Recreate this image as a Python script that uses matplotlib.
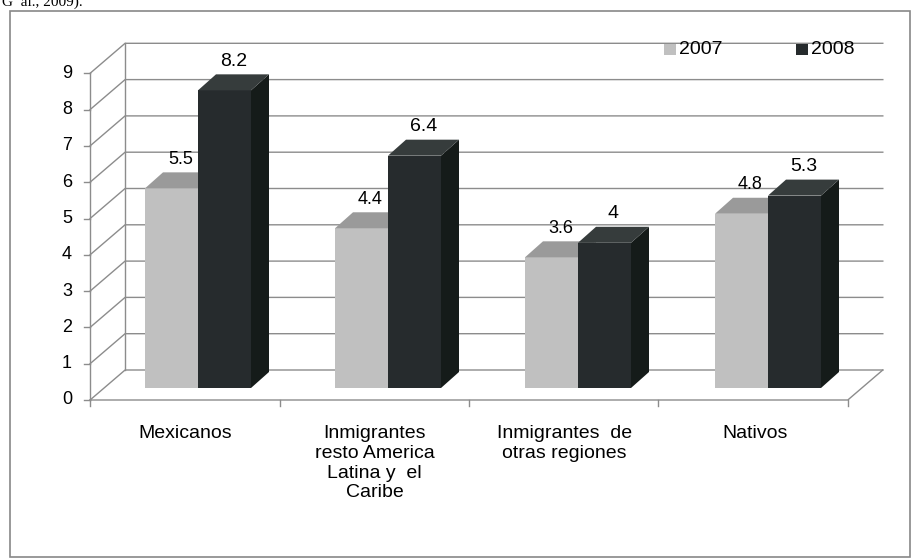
import matplotlib
matplotlib.use("Agg")
import matplotlib.pyplot as plt
from matplotlib.patches import Polygon, Rectangle

categories = ["Mexicanos", "Inmigrantes\nresto America\nLatina y  el\nCaribe",
              "Inmigrantes  de\notras regiones", "Nativos"]
series_names = ["2007", "2008"]
values_2007 = [5.5, 4.4, 3.6, 4.8]
values_2008 = [8.2, 6.4, 4.0, 5.3]
labels_2007 = ["5.5", "4.4", "3.6", "4.8"]
labels_2008 = ["8.2", "6.4", "4", "5.3"]
yticks = list(range(10))

# pseudo 3D geometry (category units / value units)
PX = 190.0      # px per category
PY = 36.3       # px per value unit
x0, x1 = -0.568, 3.42
wdx, wdy = 35 / PX, 30 / PY
bw = 53 / PX
bdx, bdy = 18 / PX, 16 / PY
base = 12 / PY
grid_c = "#8c8c8c"
FONT = "Liberation Sans"

W, H = 912, 558
fig = plt.figure(figsize=(W / 100, H / 100), dpi=100)
ax = fig.add_axes([0, 0, 1, 1])
ax.set_xlim(-198 / PX, (W - 198) / PX)
ax.set_ylim(-(H - 400) / PY, 400 / PY)
ax.axis("off")

# outer border
ax.add_patch(Rectangle((-188 / PX, -(H - 401) / PY), 900 / PX, (H - 12) / PY,
                       fill=False, ec="#888888", lw=1.2))
ax.text(-196 / PX, 400 / PY - 0.05, "G  al., 2009).", fontsize=11, family="Liberation Serif",
        va="center", ha="left")

# gridlines with the 3D wall
for v in yticks:
    ax.plot([x0, x0 + wdx, x1 + wdx], [v, v + wdy, v + wdy], color=grid_c, lw=1)
    ax.plot([x0 - 6 / PX, x0], [v, v], color=grid_c, lw=1)
    ax.text(x0 - 18 / PX, v, str(v), ha="right", va="center", fontsize=13, family=FONT)
ax.plot([x0, x0], [0, 9], color=grid_c, lw=1)
ax.plot([x0 + wdx, x0 + wdx], [wdy, 9 + wdy], color=grid_c, lw=1)
ax.plot([x0, x1, x1 + wdx], [0, 0, wdy], color=grid_c, lw=1)
for i in range(5):
    xt = x0 + i * (x1 - x0) / 4
    ax.plot([xt, xt], [0, -6 / PY], color=grid_c, lw=1)


def bar3d(xl, h, front, side, top):
    xr = xl + bw
    ax.add_patch(Polygon([(xl, base), (xr, base), (xr, base + h), (xl, base + h)],
                         fc=front, ec="none", zorder=3))
    ax.add_patch(Polygon([(xr, base), (xr + bdx, base + bdy), (xr + bdx, base + h + bdy),
                          (xr, base + h)], fc=side, ec="none", zorder=3))
    ax.add_patch(Polygon([(xl, base + h), (xr, base + h), (xr + bdx, base + h + bdy),
                          (xl + bdx, base + h + bdy)], fc=top, ec="none", zorder=3))


for i in range(len(categories)):
    bar3d(i - bw, values_2007[i], "#c0c0c0", "#a6a6a6", "#9a9a9a")
    bar3d(i, values_2008[i], "#262b2d", "#151b19", "#363c3c")
for i in range(len(categories)):
    ax.text(i - bw / 2 + bdx / 2, base + values_2007[i] + bdy + 0.12, labels_2007[i],
            ha="center", va="bottom", fontsize=13, family=FONT, zorder=4)
    ax.text(i + bw / 2 + bdx / 2, base + values_2008[i] + bdy + 0.12, labels_2008[i],
            ha="center", va="bottom", fontsize=14, family=FONT, zorder=4)
    ax.text(i - 0.07, -0.7, categories[i], ha="center", va="top", fontsize=14,
            family=FONT, linespacing=1.2)

# legend
for j, (name, c) in enumerate(zip(series_names, ["#c0c0c0", "#262b2d"])):
    lx = (664 + 132 * j - 198) / PX
    ax.add_patch(Rectangle((lx, (400 - 55) / PY), 12 / PX, 12 / PY, fc=c, ec="none"))
    ax.text(lx + 15 / PX, (400 - 49) / PY, name, va="center", ha="left", fontsize=14,
            family=FONT)

fig.savefig("out.png", dpi=100)
